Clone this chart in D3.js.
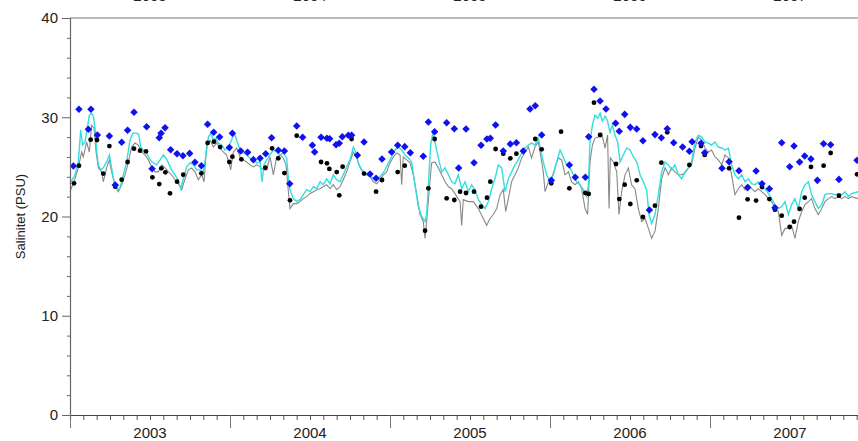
<!DOCTYPE html>
<html>
<head>
<meta charset="utf-8">
<script src="https://cdn.jsdelivr.net/npm/d3@7"></script>
<style>
  body { margin: 0; background: #fff; overflow: hidden; }
  svg { display: block; }
  text { font-family: Arial, "Liberation Sans", sans-serif; fill: #222; }
</style>
</head>
<body>
<div id="chart"></div>
<script>
// years shown on the x axis (decimal years are used for time)
const years = [2003, 2004, 2005, 2006, 2007];
const yTicks = [0, 10, 20, 30, 40];

// model salinity (cyan line): [decimal year, PSU]
const modelLine = [
  [2003.000,23.3],[2003.031,24.2],[2003.052,25.5],[2003.067,28.7],[2003.079,27.2],[2003.094,27.5],
  [2003.108,28.9],[2003.121,30.2],[2003.135,30.4],[2003.146,30.1],[2003.156,28.9],[2003.167,26.5],
  [2003.177,25.2],[2003.192,24.7],[2003.208,24.9],[2003.229,25.5],[2003.246,26.2],[2003.260,24.9],
  [2003.275,23.5],[2003.292,22.8],[2003.308,22.7],[2003.323,23.5],[2003.338,24.5],[2003.354,25.5],
  [2003.375,27.7],[2003.392,28.4],[2003.413,28.4],[2003.429,28.3],[2003.442,27.0],[2003.458,26.7],
  [2003.479,26.4],[2003.500,25.7],[2003.521,25.4],[2003.542,25.2],[2003.563,25.7],[2003.583,26.2],
  [2003.600,25.9],[2003.615,25.4],[2003.635,24.7],[2003.656,24.2],[2003.671,23.8],[2003.692,22.8],
  [2003.708,23.8],[2003.729,25.0],[2003.750,25.4],[2003.771,25.2],[2003.792,24.7],[2003.813,24.7],
  [2003.833,24.5],[2003.850,26.2],[2003.865,28.0],[2003.879,28.4],[2003.896,27.7],[2003.913,27.9],
  [2003.927,27.4],[2003.948,27.2],[2003.969,26.7],[2003.990,27.0],[2004.010,27.7],[2004.025,28.4],
  [2004.042,27.7],[2004.063,26.7],[2004.083,26.4],[2004.104,26.2],[2004.125,25.9],[2004.146,25.7],
  [2004.167,25.4],[2004.188,25.5],[2004.200,23.5],[2004.213,25.2],[2004.229,25.7],[2004.250,26.2],
  [2004.271,26.7],[2004.292,26.5],[2004.313,26.2],[2004.333,26.4],[2004.354,25.9],[2004.365,23.8],
  [2004.375,22.7],[2004.396,21.8],[2004.417,21.5],[2004.438,21.7],[2004.458,22.2],[2004.479,22.7],
  [2004.500,22.5],[2004.521,23.0],[2004.542,22.8],[2004.563,23.5],[2004.583,23.2],[2004.604,23.8],
  [2004.625,23.3],[2004.646,24.2],[2004.667,23.7],[2004.688,23.5],[2004.708,24.2],[2004.729,25.0],
  [2004.750,25.7],[2004.771,27.0],[2004.788,26.4],[2004.802,25.4],[2004.823,24.7],[2004.844,24.4],
  [2004.865,24.2],[2004.885,24.0],[2004.906,23.7],[2004.927,23.8],[2004.948,24.2],[2004.969,24.7],
  [2004.990,25.4],[2005.010,26.0],[2005.031,26.7],[2005.052,27.0],[2005.073,26.7],[2005.094,26.2],
  [2005.115,25.9],[2005.135,25.5],[2005.156,23.2],[2005.177,21.0],[2005.198,20.0],[2005.219,19.5],
  [2005.229,20.2],[2005.240,23.2],[2005.254,27.2],[2005.267,28.4],[2005.281,27.5],[2005.302,25.9],
  [2005.323,24.5],[2005.344,24.9],[2005.365,24.2],[2005.385,23.5],[2005.406,23.3],[2005.427,24.2],
  [2005.448,22.8],[2005.469,23.5],[2005.490,22.5],[2005.510,23.2],[2005.531,22.7],[2005.552,21.7],
  [2005.573,21.2],[2005.594,20.8],[2005.615,21.5],[2005.635,22.8],[2005.656,23.8],[2005.677,25.2],
  [2005.698,24.9],[2005.719,22.5],[2005.740,23.8],[2005.760,24.5],[2005.781,25.2],[2005.802,25.7],
  [2005.823,26.4],[2005.844,26.9],[2005.865,27.2],[2005.885,27.4],[2005.906,27.2],[2005.927,27.9],
  [2005.944,26.5],[2005.958,25.5],[2005.979,24.2],[2006.000,23.5],[2006.021,24.2],[2006.042,25.5],
  [2006.063,26.7],[2006.083,26.0],[2006.104,25.2],[2006.125,24.9],[2006.146,24.2],[2006.167,23.5],
  [2006.188,23.2],[2006.208,22.7],[2006.229,22.0],[2006.240,23.2],[2006.250,27.5],[2006.265,29.2],
  [2006.281,30.2],[2006.298,29.9],[2006.313,30.4],[2006.327,29.6],[2006.344,30.1],[2006.360,29.6],
  [2006.375,28.5],[2006.390,29.2],[2006.406,28.2],[2006.423,27.5],[2006.438,25.5],[2006.458,26.2],
  [2006.479,26.9],[2006.500,26.7],[2006.521,26.0],[2006.542,25.5],[2006.563,24.2],[2006.583,23.5],
  [2006.604,22.7],[2006.619,20.2],[2006.635,19.3],[2006.656,20.2],[2006.677,22.2],[2006.698,24.5],
  [2006.719,25.5],[2006.740,25.2],[2006.760,24.7],[2006.781,25.2],[2006.802,24.2],[2006.823,23.8],
  [2006.844,24.5],[2006.865,24.9],[2006.885,25.5],[2006.906,27.5],[2006.927,28.2],[2006.948,28.0],
  [2006.969,27.5],[2006.990,27.4],[2007.010,27.2],[2007.031,27.5],[2007.052,27.0],[2007.073,26.9],
  [2007.094,26.7],[2007.115,26.9],[2007.135,25.2],[2007.156,24.2],[2007.177,23.8],[2007.198,24.2],
  [2007.219,23.5],[2007.240,23.8],[2007.260,23.3],[2007.281,23.2],[2007.302,23.5],[2007.323,23.0],
  [2007.344,22.8],[2007.365,22.3],[2007.385,21.8],[2007.406,21.2],[2007.427,20.8],[2007.448,21.0],
  [2007.469,21.5],[2007.490,20.2],[2007.510,21.2],[2007.531,21.8],[2007.552,20.8],[2007.573,22.5],
  [2007.594,23.2],[2007.615,23.5],[2007.635,22.2],[2007.656,21.5],[2007.677,20.8],[2007.698,21.2],
  [2007.719,22.2],[2007.740,22.3],[2007.760,22.3],[2007.781,22.2],[2007.802,22.3],[2007.823,22.2],
  [2007.844,22.5],[2007.865,22.0],[2007.885,22.3],[2007.925,22.5]
];

// measured salinity (grey line)
const measuredLine = [
  [2003.000,22.5],[2003.031,23.8],[2003.052,24.9],[2003.073,26.5],[2003.083,26.0],[2003.104,27.5],
  [2003.121,26.5],[2003.135,29.2],[2003.150,28.9],[2003.163,26.5],[2003.177,24.9],[2003.198,24.5],
  [2003.208,23.5],[2003.229,24.9],[2003.246,25.7],[2003.260,24.5],[2003.281,23.2],[2003.302,22.5],
  [2003.323,23.2],[2003.344,24.2],[2003.365,25.5],[2003.385,27.0],[2003.406,27.4],[2003.427,27.2],
  [2003.448,26.5],[2003.469,26.2],[2003.490,25.7],[2003.510,25.0],[2003.531,24.5],[2003.552,24.5],
  [2003.573,25.2],[2003.594,24.9],[2003.615,24.5],[2003.635,24.2],[2003.656,23.7],[2003.677,23.3],
  [2003.698,22.7],[2003.719,23.8],[2003.740,24.7],[2003.760,24.9],[2003.781,24.5],[2003.802,23.7],
  [2003.823,24.2],[2003.838,23.5],[2003.854,27.2],[2003.875,27.7],[2003.896,27.0],[2003.917,27.4],
  [2003.938,26.9],[2003.958,26.5],[2003.979,26.2],[2004.000,25.0],[2004.004,24.7],[2004.021,26.5],
  [2004.042,26.9],[2004.063,26.0],[2004.083,25.7],[2004.104,25.5],[2004.125,25.2],[2004.146,25.0],
  [2004.167,25.2],[2004.188,25.0],[2004.208,24.7],[2004.229,24.7],[2004.250,26.0],[2004.271,24.2],
  [2004.292,26.0],[2004.313,26.2],[2004.333,25.9],[2004.350,25.2],[2004.365,22.5],[2004.375,20.8],
  [2004.396,21.3],[2004.417,21.3],[2004.438,21.5],[2004.458,21.8],[2004.479,22.0],[2004.500,22.3],
  [2004.521,22.5],[2004.542,22.7],[2004.563,22.8],[2004.583,23.0],[2004.604,23.2],[2004.625,22.8],
  [2004.646,23.2],[2004.667,22.7],[2004.688,23.0],[2004.708,23.7],[2004.729,24.5],[2004.750,25.5],
  [2004.771,26.5],[2004.792,25.9],[2004.813,24.9],[2004.833,24.4],[2004.854,24.2],[2004.875,24.0],
  [2004.896,23.5],[2004.917,23.3],[2004.938,23.7],[2004.958,24.2],[2004.979,24.5],[2005.000,25.4],
  [2005.021,26.0],[2005.042,26.4],[2005.063,26.2],[2005.073,23.2],[2005.083,26.0],[2005.104,25.7],
  [2005.125,25.4],[2005.146,24.2],[2005.167,22.2],[2005.188,20.2],[2005.208,19.5],[2005.219,17.8],
  [2005.229,19.5],[2005.246,22.8],[2005.260,25.4],[2005.281,25.5],[2005.302,24.9],[2005.323,24.2],
  [2005.344,23.5],[2005.365,23.0],[2005.385,22.8],[2005.406,22.3],[2005.438,21.5],[2005.448,19.1],
  [2005.458,21.7],[2005.490,21.5],[2005.521,21.5],[2005.552,20.8],[2005.583,19.8],[2005.604,19.1],
  [2005.625,19.8],[2005.646,20.2],[2005.667,20.8],[2005.688,22.2],[2005.708,22.7],[2005.723,20.5],
  [2005.740,21.8],[2005.760,23.5],[2005.781,24.2],[2005.802,24.9],[2005.823,25.9],[2005.844,26.5],
  [2005.865,27.0],[2005.885,25.9],[2005.906,27.0],[2005.927,27.5],[2005.944,25.9],[2005.958,24.5],
  [2005.969,22.5],[2005.990,23.5],[2006.010,23.8],[2006.031,24.9],[2006.052,25.9],[2006.073,25.7],
  [2006.094,24.2],[2006.115,24.5],[2006.135,23.5],[2006.156,23.2],[2006.177,23.5],[2006.198,22.8],
  [2006.219,20.8],[2006.235,20.2],[2006.250,25.5],[2006.265,27.2],[2006.281,27.9],[2006.302,28.0],
  [2006.323,28.4],[2006.344,26.9],[2006.360,28.2],[2006.369,20.8],[2006.377,25.9],[2006.396,25.5],
  [2006.417,24.5],[2006.431,20.2],[2006.448,22.5],[2006.469,24.2],[2006.490,24.9],[2006.510,23.2],
  [2006.531,22.8],[2006.552,20.8],[2006.573,19.5],[2006.594,19.8],[2006.615,18.8],[2006.635,17.8],
  [2006.656,18.5],[2006.677,20.8],[2006.698,23.8],[2006.719,24.9],[2006.740,24.2],[2006.760,24.9],
  [2006.781,24.5],[2006.802,24.2],[2006.823,24.2],[2006.844,24.4],[2006.865,24.9],[2006.885,25.2],
  [2006.906,26.9],[2006.927,28.0],[2006.948,27.7],[2006.969,26.9],[2006.990,26.5],[2007.010,26.7],
  [2007.031,26.0],[2007.052,25.7],[2007.073,25.2],[2007.094,26.2],[2007.115,25.9],[2007.135,24.2],
  [2007.156,22.2],[2007.177,22.8],[2007.198,23.2],[2007.219,22.7],[2007.240,23.2],[2007.260,22.8],
  [2007.281,22.5],[2007.302,22.8],[2007.323,22.5],[2007.344,22.2],[2007.365,21.8],[2007.385,21.5],
  [2007.406,20.8],[2007.427,20.5],[2007.448,18.1],[2007.469,18.8],[2007.490,18.8],[2007.510,19.1],
  [2007.531,17.8],[2007.552,19.5],[2007.573,20.5],[2007.594,21.2],[2007.615,21.5],[2007.635,21.8],
  [2007.656,20.8],[2007.677,20.2],[2007.698,20.8],[2007.719,21.5],[2007.740,21.8],[2007.760,22.0],
  [2007.781,21.8],[2007.802,22.0],[2007.823,21.8],[2007.844,22.0],[2007.865,21.8],[2007.885,22.0],
  [2007.925,21.8]
];

// bottom samples (blue diamonds)
const bottomSamples = [
  [2003.021,25.09],[2003.056,30.80],[2003.115,28.78],[2003.131,30.80],[2003.171,28.21],[2003.246,28.11],
  [2003.283,23.17],[2003.323,27.47],[2003.360,28.68],[2003.400,30.50],[2003.479,29.05],[2003.513,24.82],
  [2003.558,27.94],[2003.569,28.38],[2003.594,28.95],[2003.629,26.73],[2003.669,26.33],[2003.706,26.13],
  [2003.748,26.36],[2003.781,25.46],[2003.821,25.12],[2003.860,29.29],[2003.898,28.48],[2003.935,28.01],
  [2003.996,26.94],[2004.015,28.38],[2004.067,26.60],[2004.110,26.47],[2004.146,25.73],[2004.188,25.86],
  [2004.223,26.33],[2004.260,27.94],[2004.302,26.67],[2004.340,26.60],[2004.373,23.31],[2004.417,29.12],
  [2004.454,27.98],[2004.515,27.17],[2004.529,26.50],[2004.569,27.98],[2004.606,27.88],[2004.623,27.84],
  [2004.663,27.24],[2004.683,27.37],[2004.702,28.04],[2004.740,28.18],[2004.760,28.18],[2004.796,26.16],
  [2004.838,27.51],[2004.875,24.28],[2004.913,23.85],[2004.950,25.79],[2005.010,26.50],[2005.048,27.17],
  [2005.092,27.04],[2005.127,26.43],[2005.208,26.06],[2005.240,29.52],[2005.279,28.55],[2005.354,29.45],
  [2005.402,28.85],[2005.429,24.89],[2005.475,28.82],[2005.525,25.42],[2005.569,27.17],[2005.606,27.81],
  [2005.627,27.88],[2005.660,29.22],[2005.708,26.60],[2005.752,27.30],[2005.790,27.44],[2005.833,26.60],
  [2005.875,30.83],[2005.908,31.17],[2005.948,28.21],[2006.008,23.64],[2006.121,25.19],[2006.158,23.95],
  [2006.221,23.95],[2006.242,28.04],[2006.275,32.81],[2006.313,31.64],[2006.350,30.83],[2006.410,29.39],
  [2006.433,28.58],[2006.467,30.29],[2006.502,28.98],[2006.542,28.82],[2006.581,27.64],[2006.621,20.65],
  [2006.656,28.25],[2006.696,27.94],[2006.733,28.85],[2006.773,27.44],[2006.829,27.00],[2006.871,26.57],
  [2006.888,27.54],[2006.944,27.37],[2006.967,26.43],[2007.075,24.85],[2007.119,25.52],[2007.181,24.62],
  [2007.235,22.91],[2007.288,24.58],[2007.325,23.31],[2007.371,22.80],[2007.406,20.89],[2007.448,27.44],
  [2007.498,25.02],[2007.525,27.10],[2007.560,25.49],[2007.592,26.10],[2007.631,25.79],[2007.671,23.64],
  [2007.710,27.34],[2007.754,27.24],[2007.806,23.74],[2007.919,25.66]
];

// surface samples (black dots)
const surfaceSamples = [
  [2003.025,23.34],[2003.056,25.12],[2003.129,27.74],[2003.169,27.71],[2003.208,24.32],[2003.246,27.10],
  [2003.283,23.01],[2003.323,23.71],[2003.360,25.49],[2003.400,26.83],[2003.438,26.63],[2003.475,26.57],
  [2003.515,23.95],[2003.558,23.27],[2003.571,24.85],[2003.596,24.45],[2003.625,22.33],[2003.669,23.51],
  [2003.708,24.21],[2003.821,24.35],[2003.860,27.41],[2003.900,27.54],[2003.938,27.00],[2003.996,25.49],
  [2004.015,26.03],[2004.071,25.76],[2004.221,24.92],[2004.263,26.87],[2004.302,25.86],[2004.340,24.38],
  [2004.375,21.63],[2004.417,28.14],[2004.569,25.49],[2004.606,25.36],[2004.621,24.79],[2004.667,24.48],
  [2004.683,22.13],[2004.704,25.02],[2004.760,27.81],[2004.838,24.32],[2004.913,22.50],[2004.950,23.68],
  [2005.048,24.48],[2005.092,25.12],[2005.219,18.57],[2005.240,22.84],[2005.279,27.81],[2005.354,21.83],
  [2005.402,21.66],[2005.438,22.50],[2005.475,22.37],[2005.525,22.50],[2005.569,20.99],[2005.606,21.90],
  [2005.627,23.51],[2005.660,26.80],[2005.708,26.33],[2005.752,25.86],[2005.790,26.33],[2005.908,27.81],
  [2005.948,26.77],[2006.008,23.34],[2006.069,28.55],[2006.121,22.84],[2006.221,22.37],[2006.242,22.27],
  [2006.275,31.47],[2006.313,28.21],[2006.413,25.29],[2006.433,21.76],[2006.467,23.21],[2006.502,21.26],
  [2006.542,23.64],[2006.581,19.95],[2006.656,21.09],[2006.696,25.42],[2006.733,28.48],[2006.871,25.19],
  [2006.944,27.10],[2006.967,26.20],[2007.119,24.85],[2007.181,19.88],[2007.235,21.73],[2007.288,21.60],
  [2007.325,22.97],[2007.371,21.76],[2007.406,20.69],[2007.448,20.08],[2007.498,18.94],[2007.525,19.48],
  [2007.560,20.76],[2007.592,21.90],[2007.631,24.99],[2007.710,25.12],[2007.754,26.40],[2007.806,22.10],
  [2007.919,24.25]
];

const W = 858, H = 441;
const margin = {top: 18, right: 0, bottom: 26, left: 70};
const width = W - margin.left - margin.right;
const height = H - margin.top - margin.bottom;

const svg = d3.select("#chart")
    .append("svg")
    .attr("width", W)
    .attr("height", H);

const g = svg.append("g")
    .attr("transform", "translate(" + margin.left + "," + margin.top + ")");

const x = d3.scaleLinear().domain([2003, 2007.925]).range([0, width]);
const y = d3.scaleLinear().domain([0, 40]).range([height, 0]);

// top frame line
g.append("line")
    .attr("x1", 0).attr("x2", width)
    .attr("y1", 0).attr("y2", 0)
    .attr("stroke", "#777").attr("stroke-width", 1.2);

// top year labels (mostly cut off by the page edge, as in the source)
g.selectAll(".topyear").data(years).enter().append("text")
    .attr("x", d => x(d + 0.5))
    .attr("y", -17)
    .attr("text-anchor", "middle")
    .style("font-size", "15px")
    .text(d => d);

// lines
const line = d3.line().x(d => x(d[0])).y(d => y(d[1]));

g.append("path").datum(measuredLine)
    .attr("fill", "none").attr("stroke", "#888").attr("stroke-width", 1.1)
    .attr("d", line);

g.append("path").datum(modelLine)
    .attr("fill", "none").attr("stroke", "#33dede").attr("stroke-width", 1.4)
    .attr("d", line);

// samples
g.selectAll(".dot").data(surfaceSamples).enter().append("circle")
    .attr("cx", d => x(d[0]))
    .attr("cy", d => y(d[1]))
    .attr("r", 2.4)
    .attr("fill", "#000");

g.selectAll(".dia").data(bottomSamples).enter().append("path")
    .attr("transform", d => "translate(" + x(d[0]) + "," + y(d[1]) + ")")
    .attr("d", d3.symbol().type(d3.symbolDiamond2).size(36))
    .attr("fill", "#1010f0");

// y axis
const yAxis = d3.axisLeft(y).tickValues(yTicks).tickSize(8).tickPadding(4);
const ya = g.append("g").call(yAxis);
ya.select(".domain").attr("stroke", "#666").attr("stroke-width", 1.2);
ya.selectAll(".tick line").attr("stroke", "#666");
ya.selectAll("text").style("font-size", "15px").attr("fill", "#222")
    .style("font-family", "Arial, 'Liberation Sans', sans-serif");

const yMinor = d3.axisLeft(y).tickValues(d3.range(0, 41, 2).filter(v => v % 10 !== 0))
    .tickSize(3).tickFormat("");
g.append("g").call(yMinor).call(a => a.select(".domain").remove())
    .selectAll(".tick line").attr("stroke", "#666");

// x axis: monthly minor ticks, yearly major ticks, labels centred on years
const months = d3.range(0, 60).map(i => 2003 + i / 12).filter(v => v <= 2007.925);
const xMinor = d3.axisBottom(x).tickValues(months).tickSize(5).tickFormat("");
const xm = g.append("g").attr("transform", "translate(0," + height + ")").call(xMinor);
xm.select(".domain").attr("stroke", "#444").attr("stroke-width", 1.2);
xm.selectAll(".tick line").attr("stroke", "#555");

const xMajor = d3.axisBottom(x).tickValues(years).tickSize(13).tickFormat("");
g.append("g").attr("transform", "translate(0," + height + ")").call(xMajor)
    .call(a => a.select(".domain").remove())
    .selectAll(".tick line").attr("stroke", "#777");

g.selectAll(".year").data(years).enter().append("text")
    .attr("x", d => x(d + 0.5))
    .attr("y", height + 23)
    .attr("text-anchor", "middle")
    .style("font-size", "15px")
    .text(d => d);

// y label
svg.append("text")
    .attr("transform", "translate(25," + (margin.top + height / 2) + ") rotate(-90)")
    .attr("text-anchor", "middle")
    .style("font-size", "13px")
    .text("Salinitet (PSU)");
</script>
</body>
</html>
